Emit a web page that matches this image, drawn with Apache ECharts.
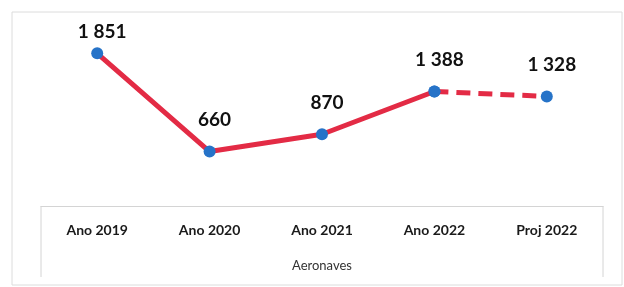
<!DOCTYPE html>
<html>
<head>
<meta charset="utf-8">
<script src="https://cdn.jsdelivr.net/npm/echarts@6/dist/echarts.min.js"></script>
<style>
  html, body { margin: 0; padding: 0; background: #fff; }
  #chart { width: 624px; height: 287px; }
</style>
</head>
<body>
<div id="chart"></div>
<script>
// categories and values
const categories = ['Ano 2019', 'Ano 2020', 'Ano 2021', 'Ano 2022', 'Proj 2022'];
const actual = [1851, 660, 870, 1388];
const projection = [1328];
const axisName = 'Aeronaves';

const font = 'Lato, "Open Sans", sans-serif';
const red = '#e32b45';
const blue = '#2673c8';

// solid line: real years; dashed line: last real year to the projection
const solidData = categories.map((c, i) => (i < actual.length ? actual[i] : null));
const dashedData = categories.map((c, i) => {
  if (i === actual.length - 1) return actual[i];
  if (i >= actual.length) return projection[i - actual.length];
  return null;
});

// format like "1 851"
function fmt(v) {
  return String(v).replace(/\B(?=(\d{3})+(?!\d))/g, ' ');
}

const labelStyle = {
  show: true,
  position: 'top',
  distance: 16,
  offset: [5, 0],
  color: '#111',
  fontSize: 19,
  fontWeight: 'bold',
  fontFamily: font,
  formatter: p => fmt(p.value)
};

const chart = echarts.init(document.getElementById('chart'));
chart.setOption({
  backgroundColor: '#fff',
  animation: false,
  grid: { left: 41, right: 21, top: 41, bottom: 81 },
  xAxis: {
    type: 'category',
    data: categories,
    boundaryGap: true,
    name: axisName,
    nameLocation: 'middle',
    nameGap: 53,
    nameTextStyle: { color: '#333', fontSize: 13, fontFamily: font },
    axisLine: { lineStyle: { color: '#d4d4d4', width: 1 } },
    axisTick: { show: false },
    axisLabel: { color: '#1a1a1a', fontSize: 14, fontWeight: 'bold', fontFamily: font, margin: 17 }
  },
  yAxis: {
    type: 'value',
    min: 0,
    max: 2000,
    show: false
  },
  graphic: [
    // outer chart border
    { type: 'rect', shape: { x: 12, y: 12, width: 610, height: 273 },
      style: { fill: 'none', stroke: '#dcdcdc', lineWidth: 1 }, silent: true },
    // sides of the axis table
    { type: 'line', shape: { x1: 41, y1: 206, x2: 41, y2: 277 },
      style: { stroke: '#d4d4d4', lineWidth: 1 }, silent: true },
    { type: 'line', shape: { x1: 603, y1: 206, x2: 603, y2: 277 },
      style: { stroke: '#d4d4d4', lineWidth: 1 }, silent: true }
  ],
  series: [
    {
      type: 'line',
      data: solidData.map((v, i) => (i === 0 ? { value: v, label: { distance: 6 } } : v)),
      symbol: 'circle',
      symbolSize: 12,
      lineStyle: { color: red, width: 5 },
      itemStyle: { color: blue },
      label: labelStyle,
      z: 3
    },
    {
      type: 'line',
      data: dashedData.map((v, i) => (i === actual.length - 1 ? { value: v, label: { show: false } } : v)),
      symbol: 'circle',
      symbolSize: 12,
      lineStyle: { color: red, width: 5, type: [14, 8] },
      itemStyle: { color: blue },
      label: labelStyle,
      z: 2
    }
  ]
});
</script>
</body>
</html>
